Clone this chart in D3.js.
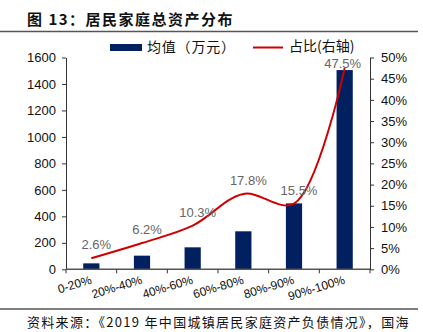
<!DOCTYPE html>
<html><head><meta charset="utf-8">
<script src="https://cdn.jsdelivr.net/npm/d3@7"></script>
<style>
body{margin:0;background:#fff;}
svg{display:block;}
text{font-family:"Liberation Sans",Arial,"Noto Sans CJK SC",sans-serif;}
.cjk{font-family:"Noto Sans CJK SC",sans-serif;}
</style></head>
<body><svg id="c" width="423" height="332"></svg>
<script>
const categories = ["0-20%","20%-40%","40%-60%","60%-80%","80%-90%","90%-100%"];
const meanValues = [45, 103, 166, 287, 498, 1505];
const shareValues = [0.026, 0.062, 0.103, 0.178, 0.155, 0.475];
const shareLabels = ["2.6%","6.2%","10.3%","17.8%","15.5%","47.5%"];
const leftTicks = [0,200,400,600,800,1000,1200,1400,1600];
const rightTicks = [0,0.05,0.10,0.15,0.20,0.25,0.30,0.35,0.40,0.45,0.50];
const title = "图 13：居民家庭总资产分布";
const source = "资料来源：《2019 年中国城镇居民家庭资产负债情况》，国海";
const legendBar = "均值（万元）";
const legendLine = "占比(右轴)";

const svg = d3.select("#c");
const L = 66, R = 370, T = 57.5, B = 269.3;
const x = d3.scaleBand().domain(categories).range([L, R]);
const y = d3.scaleLinear().domain([0,1600]).range([B, T]);
const y2 = d3.scaleLinear().domain([0,0.5]).range([B, T]);

// title
svg.append("text").attr("class","cjk").attr("x",27).attr("y",25)
  .attr("font-size",15).attr("font-weight","bold").attr("letter-spacing",1.5).attr("fill","#111").text(title);
svg.append("line").attr("x1",0).attr("x2",418).attr("y1",31.5).attr("y2",31.5)
  .attr("stroke","#555").attr("stroke-width",1.5);

// bars
const bw = x.bandwidth()*0.32;
svg.append("g").selectAll("rect").data(meanValues).join("rect")
  .attr("x",(d,i)=>x(categories[i])+x.bandwidth()/2-bw/2)
  .attr("y",d=>y(d)).attr("width",bw).attr("height",d=>B-y(d))
  .attr("fill","#002060");

// axes
const axStyle = g=>{g.selectAll("path,line").attr("stroke","#333");
  g.selectAll("text").attr("fill","#111").attr("font-size",13);};
svg.append("g").attr("transform",`translate(${L},0)`)
  .call(d3.axisLeft(y).tickValues(leftTicks).tickSize(4).tickSizeOuter(0).tickPadding(6).tickFormat(d3.format("d")))
  .call(axStyle);
svg.append("g").attr("transform",`translate(${R},0)`)
  .call(d3.axisRight(y2).tickValues(rightTicks).tickSize(4).tickSizeOuter(0).tickPadding(7).tickFormat(d3.format(".0%")))
  .call(axStyle);
// x axis
const xg = svg.append("g").attr("transform",`translate(0,${B})`);
xg.append("line").attr("x1",L).attr("x2",R).attr("stroke","#555").attr("stroke-width",1.5);
const bounds = categories.map(c=>x(c)).concat([R]);
xg.selectAll("line.t").data(bounds).join("line").attr("class","t")
  .attr("x1",d=>d).attr("x2",d=>d).attr("y1",0).attr("y2",4).attr("stroke","#333");
xg.selectAll("text").data(categories).join("text")
  .attr("transform",d=>`translate(${x(d)+x.bandwidth()/2+1},${14}) rotate(-17)`)
  .attr("text-anchor","end").attr("font-size",12).attr("fill","#111").text(d=>d);

// line
const pts = shareValues.map((v,i)=>[x(categories[i])+x.bandwidth()/2, y2(v)]);
svg.append("path").datum(pts)
  .attr("d",d3.line().curve(d3.curveCatmullRom.alpha(0.5)))
  .attr("fill","none").attr("stroke","#D00000").attr("stroke-width",2);
const lastIdx = shareLabels.length-1;
svg.append("g").selectAll("text").data(shareLabels).join("text")
  .attr("x",(d,i)=>pts[i][0]+(i===lastIdx?-2:5)).attr("y",(d,i)=>pts[i][1]-(i===lastIdx?0.5:9))
  .attr("text-anchor","middle").attr("font-size",13).attr("fill","#666").text(d=>d);

// legend
svg.append("rect").attr("x",110).attr("y",44).attr("width",32).attr("height",7).attr("fill","#002060");
svg.append("text").attr("class","cjk").attr("x",147).attr("y",51.5).attr("font-size",14).attr("letter-spacing",0.8).attr("fill","#111").text(legendBar);
svg.append("line").attr("x1",253).attr("x2",283).attr("y1",47.5).attr("y2",47.5).attr("stroke","#D00000").attr("stroke-width",2);
svg.append("text").attr("class","cjk").attr("x",289).attr("y",51).attr("font-size",14).attr("fill","#111").text(legendLine);

// footer
svg.append("line").attr("x1",0).attr("x2",418).attr("y1",309).attr("y2",309)
  .attr("stroke","#555").attr("stroke-width",1.5);
svg.append("text").attr("class","cjk").attr("x",27).attr("y",327)
  .attr("font-size",13).attr("letter-spacing",1.3).attr("fill","#111").text(source);
</script></body></html>
